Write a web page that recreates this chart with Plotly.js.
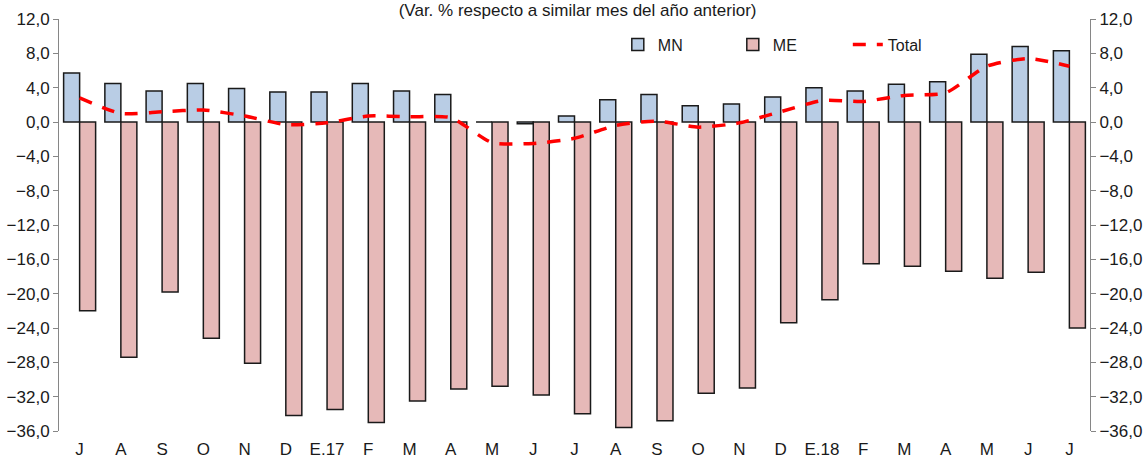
<!DOCTYPE html>
<html>
<head>
<meta charset="utf-8">
<script src="https://cdn.plot.ly/plotly-3.0.1.min.js"></script>
<style>html,body{margin:0;padding:0;background:#fff;}#chart{width:1145px;height:458px;}</style>
</head>
<body>
<div id="chart"></div>
<script>
const months = ["J","A","S","O","N","D","E.17","F","M","A","M","J","J","A","S","O","N","D","E.18","F","M","A","M","J","J"];
const mn = [5.7,4.5,3.6,4.5,3.9,3.5,3.5,4.5,3.6,3.2,0.0,-0.2,0.7,2.6,3.2,1.9,2.1,2.9,4.0,3.6,4.4,4.7,7.9,8.8,8.3];
const me = [-22.0,-27.4,-19.8,-25.2,-28.1,-34.2,-33.5,-35.0,-32.5,-31.1,-30.8,-31.8,-34.0,-35.6,-34.8,-31.6,-31.0,-23.4,-20.7,-16.5,-16.8,-17.4,-18.2,-17.5,-24.0];
const total = [2.8,1.0,1.2,1.4,0.7,-0.3,-0.1,0.7,0.6,0.5,-2.4,-2.5,-1.9,-0.4,0.1,-0.6,-0.1,1.2,2.5,2.4,3.1,3.4,6.5,7.4,6.5];
const yTicks = [-36,-32,-28,-24,-20,-16,-12,-8,-4,0,4,8,12];

const idx = months.map((_, i) => i);
const bounds = months.map((_, i) => i + 0.5).slice(0, months.length - 1);
const FONT = "Liberation Sans, Arial, sans-serif";
const AX = "#868686";
const TXT = "#1a1a1a";
const yr = [-36, 12];

const traces = [
  {type:"bar", name:"MN", x:idx, y:mn, marker:{color:"#b9cde5", line:{color:TXT, width:1.5}}},
  {type:"bar", name:"ME", x:idx, y:me, marker:{color:"#e6b9b8", line:{color:TXT, width:1.5}}},
  {type:"scatter", mode:"lines", name:"Total", x:idx, y:total, yaxis:"y2",
   line:{color:"#ff0000", width:3.5, dash:"13px,11px", shape:"spline", smoothing:0.6}}
];

const yBase = {range:yr, tickvals:yTicks, tickformat:".1f", showgrid:false, zeroline:false,
  showline:true, linecolor:AX, linewidth:1, ticks:"outside", ticklen:5, tickcolor:AX,
  tickfont:{family:FONT, size:17, color:TXT}, fixedrange:true};

const layout = {
  width:1145, height:458,
  margin:{l:59, r:55, t:19, b:27},
  paper_bgcolor:"#fff", plot_bgcolor:"#fff",
  separators:",.",
  font:{family:FONT, size:17, color:TXT},
  title:{text:"(Var. % respecto a similar mes del año anterior)", x:0.503, xref:"paper", xanchor:"center",
         y:0.978, yref:"container", yanchor:"middle", font:{family:FONT, size:17, color:TXT}},
  barmode:"group", bargap:0.224, bargroupgap:0,
  showlegend:true,
  legend:{orientation:"h", x:0.542, xanchor:"left", y:0.938, yanchor:"middle",
          bgcolor:"rgba(0,0,0,0)", font:{family:FONT, size:16, color:TXT},
          entrywidth:70, entrywidthmode:"pixels", traceorder:"normal"},
  xaxis:{range:[-0.5, months.length - 0.5], tickvals:idx, ticktext:months, showgrid:false,
         zeroline:false, showline:false, ticks:"outside", ticklen:3, tickcolor:"rgba(0,0,0,0)",
         tickfont:{family:FONT, size:17, color:TXT}, fixedrange:true},
  xaxis2:{overlaying:"x", anchor:"free", position:0.75, range:[-0.5, months.length - 0.5],
          tickvals:bounds, ticks:"outside", ticklen:4, tickcolor:AX, showticklabels:false,
          showline:true, linecolor:AX, linewidth:1.5, showgrid:false, zeroline:false, fixedrange:true},
  yaxis:Object.assign({}, yBase, {side:"left"}),
  yaxis2:Object.assign({}, yBase, {side:"right", overlaying:"y"})
};

Plotly.newPlot("chart", traces, layout, {staticPlot:true, displayModeBar:false});
</script>
</body>
</html>
